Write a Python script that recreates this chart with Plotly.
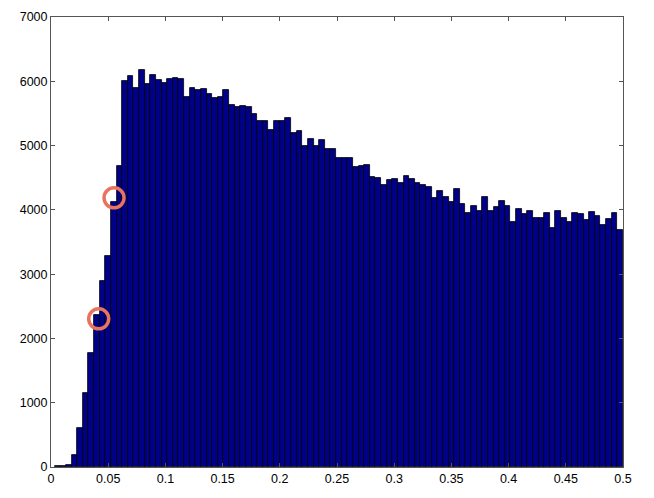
import plotly.graph_objects as go

# Histogram counts (101 bins spanning bin_lo..bin_hi)
bin_lo = 0.0032
bin_hi = 0.5
counts = [
    8, 20, 35, 190, 600, 1150, 1770, 2370, 2900, 3280,
    4130, 4680, 6000, 6080, 5900, 6170, 5960, 6100, 6020, 5980,
    6040, 6050, 6030, 5760, 5900, 5860, 5880, 5810, 5740, 5760,
    5860, 5630, 5600, 5610, 5600, 5490, 5390, 5390, 5250, 5390,
    5390, 5430, 5190, 5230, 4990, 5100, 4990, 5080, 4950, 4950,
    4800, 4800, 4800, 4660, 4690, 4700, 4510, 4500, 4380, 4460,
    4480, 4420, 4520, 4480, 4420, 4380, 4360, 4180, 4300, 4200,
    4130, 4320, 4090, 3950, 4060, 3990, 4200, 3990, 4040, 4140,
    4060, 3810, 4010, 3940, 3990, 3880, 3880, 3950, 3720, 3990,
    3880, 3810, 3950, 3930, 3840, 3970, 3910, 3770, 3860, 3950,
    3690,
]

# Highlighted points (red circles)
highlight_x = [0.0417, 0.0551]
highlight_y = [2305, 4187]

x_ticks = [0, 0.05, 0.1, 0.15, 0.2, 0.25, 0.3, 0.35, 0.4, 0.45, 0.5]
x_tick_labels = ["0", "0.05", "0.1", "0.15", "0.2", "0.25", "0.3", "0.35", "0.4", "0.45", "0.5"]
y_ticks = [0, 1000, 2000, 3000, 4000, 5000, 6000, 7000]
y_tick_labels = ["0", "1000", "2000", "3000", "4000", "5000", "6000", "7000"]

n = len(counts)
w = (bin_hi - bin_lo) / n
centers = [bin_lo + (i + 0.5) * w for i in range(n)]

fig = go.Figure()
fig.add_trace(go.Bar(
    x=centers, y=counts, width=w,
    marker=dict(color="#000088", line=dict(color="#000000", width=0.8)),
    hoverinfo="skip", showlegend=False,
))
fig.add_trace(go.Scatter(
    x=highlight_x, y=highlight_y, mode="markers",
    marker=dict(symbol="circle-open", size=20, color="#E8735F",
                line=dict(width=3.5, color="#E8735F")),
    hoverinfo="skip", showlegend=False,
))

axis_common = dict(
    showgrid=False, zeroline=False, showline=True, linecolor="#555555",
    linewidth=1, mirror="ticks", ticks="inside", ticklen=4,
    tickcolor="#555555", automargin=False,
    tickfont=dict(family="Liberation Sans, Arial", size=12.5, color="#000000"),
)

# page body has an 8px default margin, so the figure is sized to compensate
fig.update_layout(
    width=646, height=490,
    margin=dict(l=43, r=31, t=9, b=31),
    paper_bgcolor="white", plot_bgcolor="white",
    bargap=0,
    xaxis=dict(range=[0, 0.5], tickvals=x_ticks, ticktext=x_tick_labels, **axis_common),
    yaxis=dict(range=[0, 7000], tickvals=y_ticks, ticktext=y_tick_labels, **axis_common),
)

fig.write_html("out.html")
